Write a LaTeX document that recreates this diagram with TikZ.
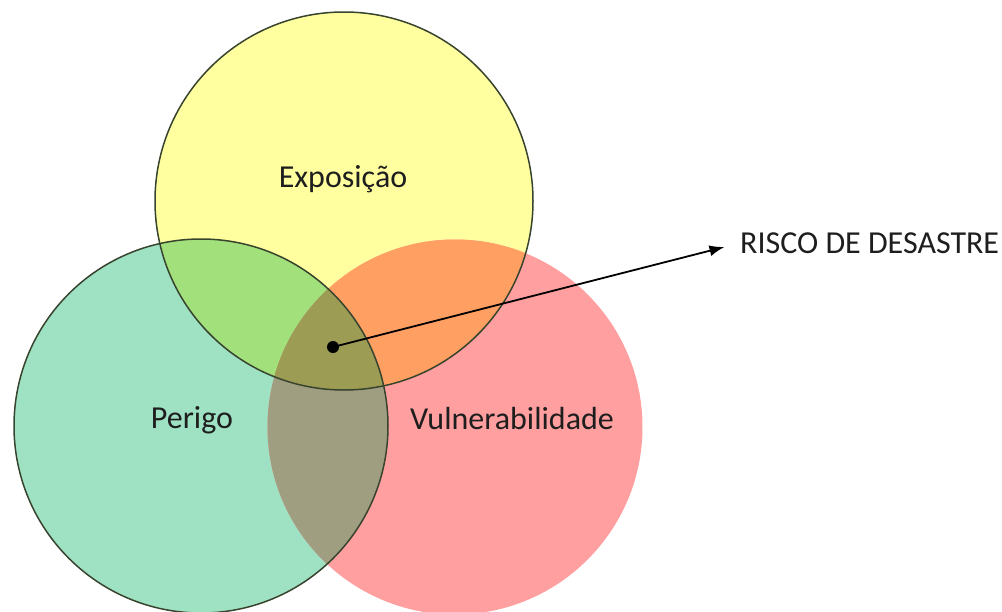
\documentclass[tikz,border=0pt]{standalone}
\usepackage{fontspec}
\setmainfont{Carlito}
\usetikzlibrary{arrows.meta}
\definecolor{cY}{HTML}{FFFF9F}
\definecolor{cG}{HTML}{9EE2C3}
\definecolor{cR}{HTML}{FF9F9F}
\definecolor{cYG}{HTML}{A2E07C}
\definecolor{cYR}{HTML}{FFA062}
\definecolor{cGR}{HTML}{A09E80}
\definecolor{cYGR}{HTML}{9C9C55}
\definecolor{edge}{HTML}{38442E}
\definecolor{txt}{HTML}{1E1E1E}
\tikzset{
  x=1pt,y=-1pt,
  set/.style={circle,inner sep=0pt,minimum size=#1},
  lbl/.style={font=\fontsize{32}{36}\selectfont,text=txt,inner sep=0pt},
}
\begin{document}
\begin{tikzpicture}
\useasboundingbox (0,0) rectangle (1002,611);
% circles (positions)
\node[set=378pt] (Y) at (344,201) {};
\node[set=374pt] (G) at (201,426) {};
\node[set=375pt] (R) at (455,427) {};
% single fills
\fill[cY] (Y.center) circle[radius=189];
\fill[cG] (G.center) circle[radius=187];
\fill[cR] (R.center) circle[radius=187.5];
% pairwise
\begin{scope}
  \clip (Y.center) circle[radius=189];
  \fill[cYG] (G.center) circle[radius=187];
  \fill[cYR] (R.center) circle[radius=187.5];
\end{scope}
\begin{scope}
  \clip (G.center) circle[radius=187];
  \fill[cGR] (R.center) circle[radius=187.5];
  \clip (R.center) circle[radius=187.5];
  \fill[cYGR] (Y.center) circle[radius=189];
\end{scope}
% outlines
\draw[edge,line width=1.5pt] (Y.center) circle[radius=189];
\draw[edge,line width=1.5pt] (G.center) circle[radius=187];
% labels
\node[lbl] (lY) at (343,179) {Exposição};
\node[lbl] (lG) at (192,420) {Perigo};
\node[lbl] (lR) at (512,419) {Vulnerabilidade};
\node[lbl,anchor=west] (risk) at (740,243) {RISCO DE DESASTRE};
% dot and arrow
\node[circle,fill=black,inner sep=0pt,minimum size=12pt] (dot) at (333,347) {};
\draw[line width=1.8pt,-{Latex[length=15pt,width=11pt]},shorten >=16pt] (dot.center) -- (risk.west);
\end{tikzpicture}
\end{document}
